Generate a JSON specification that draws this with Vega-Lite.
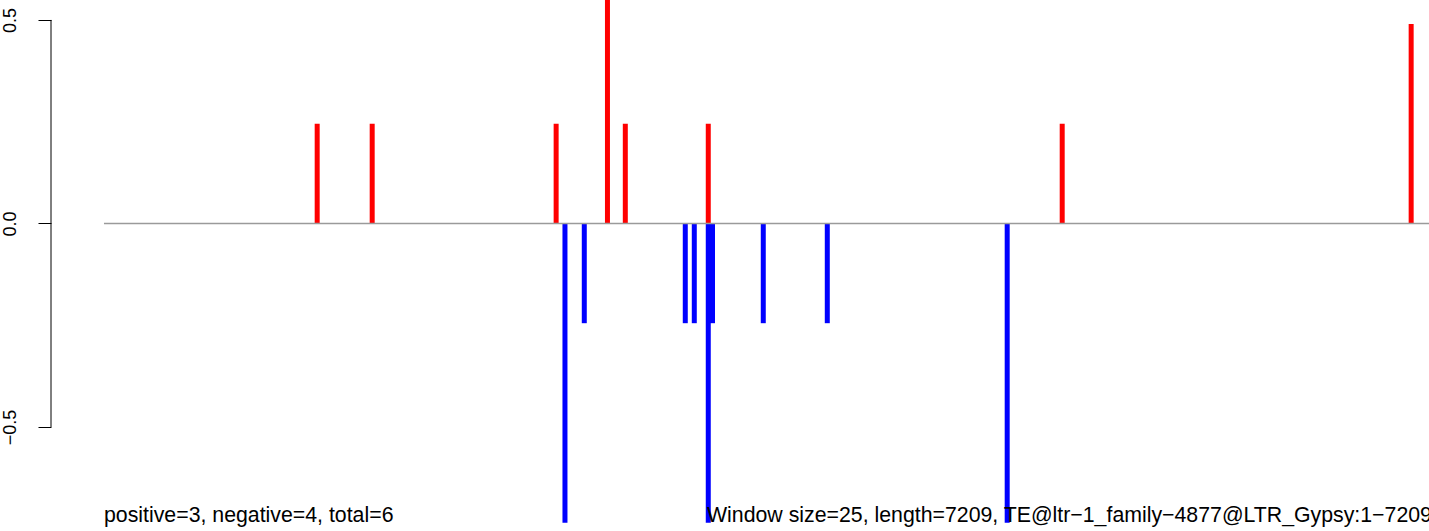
{
  "$schema": "https://vega.github.io/schema/vega-lite/v6.json",
  "width": 1378,
  "height": 531,
  "autosize": {"type": "none"},
  "padding": {"left": 51, "top": 0, "right": 0, "bottom": 0},
  "background": "white",
  "config": {
    "view": {"stroke": null},
    "font": "Liberation Sans"
  },
  "datasets": {
    "bars": [
      {"pos": 1160, "value": 0.245, "sign": "pos"},
      {"pos": 1459, "value": 0.245, "sign": "pos"},
      {"pos": 2459, "value": 0.245, "sign": "pos"},
      {"pos": 2738, "value": 0.735, "sign": "pos"},
      {"pos": 2835, "value": 0.245, "sign": "pos"},
      {"pos": 3286, "value": 0.245, "sign": "pos"},
      {"pos": 5210, "value": 0.245, "sign": "pos"},
      {"pos": 7107, "value": 0.49, "sign": "pos"},
      {"pos": 2507, "value": -0.735, "sign": "neg"},
      {"pos": 2612, "value": -0.245, "sign": "neg"},
      {"pos": 3161, "value": -0.245, "sign": "neg"},
      {"pos": 3210, "value": -0.245, "sign": "neg"},
      {"pos": 3286, "value": -0.735, "sign": "neg"},
      {"pos": 3309, "value": -0.245, "sign": "neg"},
      {"pos": 3585, "value": -0.245, "sign": "neg"},
      {"pos": 3933, "value": -0.245, "sign": "neg"},
      {"pos": 4911, "value": -0.735, "sign": "neg"}
    ],
    "labels": [
      {"x": 1, "y": -0.733, "label": "positive=3, negative=4, total=6"},
      {"x": 3279, "y": -0.733, "label": "Window size=25, length=7209, TE@ltr−1_family−4877@LTR_Gypsy:1−7209"}
    ]
  },
  "layer": [
    {
      "data": {"name": "bars"},
      "mark": {"type": "rule", "strokeWidth": 5, "strokeCap": "butt", "clip": true},
      "encoding": {
        "x": {"field": "pos", "type": "quantitative", "scale": {"domain": [-287, 7204], "nice": false, "zero": false}, "axis": null},
        "y": {
          "field": "value", "type": "quantitative",
          "scale": {"domain": [-0.7555, 0.549], "nice": false, "zero": false},
          "axis": {
            "values": [-0.5, 0, 0.5],
            "format": ".1f",
            "domain": false,
            "grid": false,
            "ticks": true,
            "tickSize": 13,
            "tickColor": "black",
            "tickWidth": 1,
            "labelAngle": 270,
            "labelAlign": "center",
            "labelBaseline": "alphabetic",
            "labelPadding": 23,
            "labelFontSize": 18,
            "labelColor": "black",
            "labelFont": "Liberation Sans",
            "title": null
          }
        },
        "y2": {"datum": 0},
        "color": {"field": "sign", "type": "nominal", "scale": {"domain": ["pos", "neg"], "range": ["#ff0000", "#0000ff"]}, "legend": null}
      }
    },
    {
      "data": {"values": [{"a": 1}]},
      "mark": {"type": "rule", "color": "#9a9a9a", "strokeWidth": 1.5},
      "encoding": {
        "x": {"datum": 1, "type": "quantitative"},
        "x2": {"datum": 7209},
        "y": {"datum": 0, "type": "quantitative"}
      }
    },
    {
      "data": {"values": [{"a": 1}]},
      "mark": {"type": "rule", "color": "black", "strokeWidth": 1},
      "encoding": {
        "x": {"datum": -287, "type": "quantitative"},
        "y": {"datum": -0.5, "type": "quantitative"},
        "y2": {"datum": 0.5}
      }
    },
    {
      "data": {"name": "labels"},
      "mark": {"type": "text", "align": "left", "baseline": "alphabetic", "fontSize": 21.3, "font": "Liberation Sans", "color": "black"},
      "encoding": {
        "x": {"field": "x", "type": "quantitative"},
        "y": {"field": "y", "type": "quantitative"},
        "text": {"field": "label"}
      }
    }
  ]
}
